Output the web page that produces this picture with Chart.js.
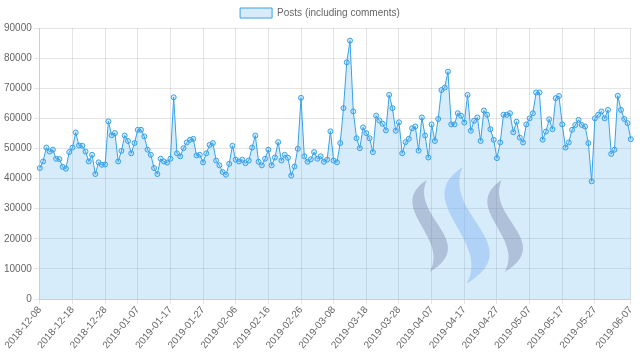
<!DOCTYPE html>
<html>
<head>
<meta charset="utf-8">
<script src="https://cdn.jsdelivr.net/npm/chart.js@4/dist/chart.umd.min.js"></script>
<style>
    html, body { margin: 0; padding: 0; background: #fff; }
    #wrap { width: 640px; height: 361px; }
</style>
</head>
<body>
<div id="wrap"><canvas id="posts-chart"></canvas></div>
<script>
// --- data ---
const startDate = '2018-12-08';
const dayCount = 182;
const seriesLabel = 'Posts (including comments)';
const posts = [
    43500, 45700, 50300, 49000, 49600, 46600, 46500, 43900, 43300, 48800,
    50300, 55300, 51000, 50900, 49000, 45700, 47900, 41500, 45400, 44600,
    44700, 59000, 54400, 55100, 45700, 49200, 54300, 52500, 48400, 51800,
    56200, 56200, 54000, 49600, 47900, 43500, 41500, 46600, 45700, 45300,
    46600, 67000, 48400, 47400, 50100, 52000, 52900, 53200, 47700, 47900,
    45400, 48400, 51200, 51800, 46000, 44400, 42200, 41300, 44900, 50900,
    46300, 45700, 46300, 45100, 46000, 50300, 54300, 45600, 44400, 46600,
    49600, 44400, 47000, 52100, 46000, 47900, 46900, 41000, 44000, 49900,
    66800, 47400, 45600, 46400, 48800, 46600, 47400, 45600, 46300, 55700,
    46000, 45400, 51800, 63400, 78600, 85800, 62300, 53400, 50100, 57000,
    55100, 53400, 48800, 60900, 59300, 58200, 56000, 67800, 63400, 55900,
    58700, 48400, 52100, 53200, 56700, 57300, 49300, 60300, 54300, 47000,
    58000, 52500, 59800, 69400, 70200, 75500, 58000, 58000, 61700, 60900,
    58600, 67800, 55900, 59200, 60300, 52500, 62600, 61200, 56400, 52900,
    46800, 52000, 61200, 61200, 61700, 55400, 58900, 53600, 52000, 58000,
    60000, 61700, 68600, 68600, 52900, 55600, 59700, 56400, 66700, 67400,
    58000, 50300, 52000, 56200, 57800, 59500, 57800, 57300, 51800, 39100,
    60000, 61200, 62300, 60000, 62800, 48200, 49600, 67500, 62800, 59800,
    58400, 53100
];
const yMax = 90000;
const yStep = 10000;
const labelEvery = 10;

// build the date labels
function buildDates(start, n) {
    const out = [];
    const d = new Date(start + 'T00:00:00Z');
    for (let i = 0; i < n; i++) {
        out.push(d.toISOString().slice(0, 10));
        d.setUTCDate(d.getUTCDate() + 1);
    }
    return out;
}
const dates = buildDates(startDate, dayCount);

// show every 10th date and always the last one
function showTick(i) {
    if (i === dates.length - 1) return true;
    return i % labelEvery === 0 && dates.length - 1 - i >= labelEvery / 2;
}

// background steem logo (just decoration behind the curve)
function drawStroke(ctx, x, y, s, color) {
    ctx.beginPath();
    ctx.moveTo(x, y);
    ctx.bezierCurveTo(x - 42 * s, y + 27 * s, x + 23 * s, y + 57 * s, x + 3 * s, y + 92 * s);
    ctx.bezierCurveTo(x + 53 * s, y + 62 * s, x - 17 * s, y + 37 * s, x, y);
    ctx.closePath();
    ctx.fillStyle = color;
    ctx.fill();
}
const logoPlugin = {
    id: 'logo',
    afterDatasetsDraw(chart) {
        const { ctx, chartArea } = chart;
        const ox = chartArea.left;
        const oy = chartArea.top;
        ctx.save();
        drawStroke(ctx, ox + 387, oy + 152, 1, 'rgba(110,120,160,0.38)');
        drawStroke(ctx, ox + 423, oy + 139, 1.27, 'rgba(130,180,245,0.45)');
        drawStroke(ctx, ox + 462, oy + 152, 1, 'rgba(110,120,160,0.38)');
        ctx.restore();
    }
};

Chart.defaults.font.size = 10;
Chart.defaults.color = '#666';

new Chart(document.getElementById('posts-chart'), {
    type: 'line',
    data: {
        labels: dates,
        datasets: [{
            label: seriesLabel,
            data: posts,
            borderColor: 'rgba(54, 162, 235, 1)',
            backgroundColor: 'rgba(54, 162, 235, 0.2)',
            borderWidth: 1,
            pointRadius: 2.5,
            pointBorderWidth: 1,
            pointBackgroundColor: 'rgba(54, 162, 235, 0.2)',
            pointBorderColor: 'rgba(54, 162, 235, 1)',
            tension: 0,
            fill: 'origin'
        }]
    },
    options: {
        responsive: true,
        maintainAspectRatio: false,
        animation: false,
        layout: { padding: { left: 2, right: 2, top: 0, bottom: 10 } },
        plugins: {
            legend: {
                position: 'top',
                labels: { boxWidth: 32, boxHeight: 10, padding: 8 }
            },
            tooltip: { enabled: false }
        },
        scales: {
            x: {
                grid: { color: 'rgba(0,0,0,0.1)', tickLength: 5 },
                ticks: {
                    autoSkip: false,
                    minRotation: 50,
                    maxRotation: 50,
                    padding: 0,
                    callback: (val, i) => showTick(i) ? dates[i] : null
                }
            },
            y: {
                min: 0,
                max: yMax,
                grid: { color: 'rgba(0,0,0,0.1)', tickLength: 6 },
                ticks: { stepSize: yStep, padding: 2, callback: v => String(v) }
            }
        }
    },
    plugins: [logoPlugin]
});
</script>
</body>
</html>
